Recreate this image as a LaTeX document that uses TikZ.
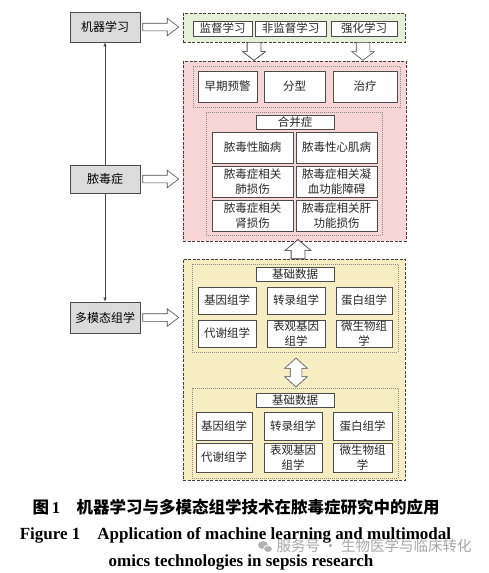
\documentclass[tikz,border=0pt]{standalone}
\usepackage{fontspec}
\setmainfont{Liberation Serif}
\newfontfamily\cjk{Noto Sans CJK SC}
\usetikzlibrary{arrows.meta,shapes.arrows}
\definecolor{boxgray}{HTML}{DBDBDB}
\definecolor{mlgreen}{HTML}{E6EFD7}
\definecolor{sepsispink}{HTML}{F8D6D6}
\definecolor{omicsyellow}{HTML}{F7EDC2}
% node from its corners: style, x1, y1, x2, y2, name, text
\newcommand{\rectnode}[7]{\node[#1, minimum width={#4-#2}, minimum height={#5-#3}] (#6) at ({(#2+#4)/2},{(#3+#5)/2}) {#7};}
\begin{document}
\begin{tikzpicture}[x=1pt, y=-1pt,
  leftbox/.style={draw=black!70, fill=boxgray, line width=0.8pt, inner sep=1pt, font=\cjk\fontsize{12}{14}\selectfont},
  panel/.style={draw=black!75, dash pattern=on 3pt off 1.5pt, line width=0.8pt},
  group/.style={draw=black!45, dash pattern=on 1pt off 1pt, line width=0.4pt},
  cell/.style={draw=black!70, fill=white, line width=0.6pt, inner sep=0.5pt, align=center, text=black!85, font=\cjk\fontsize{11.5}{14.5}\selectfont},
  hollow/.style={single arrow, draw=black!70, fill=white, line width=0.6pt, inner xsep=0pt},
  hollow2/.style={double arrow, draw=black!70, fill=white, line width=0.6pt, inner xsep=0pt},
  conn/.style={draw=black!70, line width=0.6pt, -{Latex[length=4pt,width=3.5pt]}}]
\useasboundingbox (0,0) rectangle (489,573);
% left column
\rectnode{leftbox}{70}{12}{140}{42}{ml}{机器学习}
\rectnode{leftbox}{70}{165}{140}{193}{sepsis}{脓毒症}
\rectnode{leftbox}{70}{302}{140}{333}{omics}{多模态组学}
\draw[conn] (sepsis.north) -- (ml.south);
\draw[conn] (sepsis.south) -- (omics.north);
% panels
\rectnode{panel, fill=mlgreen}{183}{13}{405}{42}{mlpanel}{}
\rectnode{panel, fill=sepsispink}{183}{61}{406}{241}{sepsispanel}{}
\rectnode{panel, fill=omicsyellow}{183}{259}{405}{480}{omicspanel}{}
\foreach \b in {ml,sepsis,omics}
  \node[hollow, anchor=tail, minimum height=36, inner ysep=3.5pt, single arrow head extend=5pt, single arrow tip angle=75] (\b arrow) at ([xshift=2pt]\b.east) {};
% machine learning
\foreach \xa/\xb/\name/\txt in {193/252/sup/监督学习, 255/326/unsup/非监督学习, 331/397/rl/强化学习}
  \rectnode{cell}{\xa}{21}{\xb}{36}{\name}{\txt}
\node[hollow, rotate=-90, anchor=tail, minimum height=18, inner ysep=6.5pt, single arrow head extend=4.5pt, single arrow tip angle=105] (down1) at (254,42) {};
\node[hollow, rotate=-90, anchor=tail, minimum height=18, inner ysep=6.5pt, single arrow head extend=4.5pt, single arrow tip angle=105] (down2) at (363,42) {};
% sepsis
\rectnode{group}{193}{66}{400}{107}{tasks}{}
\foreach \xa/\xb/\name/\txt in {198/257/early/早期预警, 264/325/subtype/分型, 333/397/therapy/治疗}
  \rectnode{cell}{\xa}{71}{\xb}{102}{\name}{\txt}
\rectnode{group}{206}{112}{382}{235}{comorb}{}
\rectnode{cell}{256}{115}{334}{129}{comorbtitle}{合并症}
\foreach \ya/\yb/\i/\lt/\rt in {132/163/1/脓毒性脑病/脓毒性心肌病, 166/197/2/脓毒症相关\\肺损伤/脓毒症相关凝\\血功能障碍, 200/231/3/脓毒症相关\\肾损伤/脓毒症相关肝\\功能损伤} {
  \rectnode{cell}{212}{\ya}{293}{\yb}{cl\i}{\lt}
  \rectnode{cell}{296}{\ya}{377}{\yb}{cr\i}{\rt}
}
\node[hollow, rotate=90, anchor=tail, minimum height=19, inner ysep=6.5pt, single arrow head extend=6pt, single arrow tip angle=100] (up) at (298,259) {};
% multimodal omics
\rectnode{group}{192}{264}{398}{352}{datA}{}
\rectnode{cell}{256}{267}{334}{281}{titleA}{基础数据}
\foreach \xa/\xb/\c/\ta/\tb in {198/256/1/基因组学/代谢组学, 267/325/2/转录组学/表观基因\\组学, 336/392/3/蛋白组学/微生物组\\学} {
  \rectnode{cell}{\xa}{287}{\xb}{314}{a\c}{\ta}
  \rectnode{cell}{\xa}{320}{\xb}{347}{b\c}{\tb}
}
\node[hollow2, rotate=90, minimum height=29, inner ysep=5.5pt, double arrow head extend=5.5pt, double arrow tip angle=95] (both) at (296,372.5) {};
\rectnode{group}{192}{388}{398}{478}{datB}{}
\rectnode{cell}{256}{393}{334}{407}{titleB}{基础数据}
\foreach \xa/\xb/\c/\ta/\tb in {196/252/1/基因组学/代谢组学, 264/322/2/转录组学/表观基因\\组学, 333/392/3/蛋白组学/微生物组\\学} {
  \rectnode{cell}{\xa}{412}{\xb}{440}{c\c}{\ta}
  \rectnode{cell}{\xa}{443}{\xb}{472}{d\c}{\tb}
}
% caption
\node[font=\fontsize{16.5}{18}\selectfont\bfseries] (cap) at (236,507) {{\cjk 图}\,1\quad{\cjk 机器学习与多模态组学技术在脓毒症研究中的应用}};
\node[font=\fontsize{17}{20}\selectfont\bfseries] (capen) at (235.5,535) {Figure 1\quad Application of machine learning and multimodal};
\node[font=\fontsize{17}{20}\selectfont\bfseries] (capen2) at (241,562) {omics technologies in sepsis research};
\fill[black!30] (263,545) ellipse (5pt and 4pt);
\fill[black!30, draw=white, line width=0.8pt] (268,549) ellipse (4.5pt and 3.5pt);
\node[anchor=west, text=black!35, font=\cjk\fontsize{14.5}{16}\selectfont] (mark) at (273,546) {服务号 · 生物医学与临床转化};
\end{tikzpicture}
\end{document}
